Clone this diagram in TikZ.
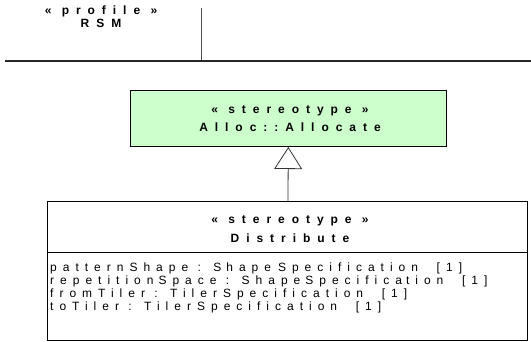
\documentclass[tikz,border=0pt]{standalone}
\usepackage{fontspec}
\setmainfont{Liberation Sans}
\newfontfamily\spbold[LetterSpace=58]{Liberation Sans}
\newfontfamily\spreg[LetterSpace=50]{Liberation Sans}
\usetikzlibrary{arrows.meta}
\definecolor{stgreen}{HTML}{CCFFCC}
\tikzset{
  classbox/.style={draw=black, line width=1pt, rectangle, anchor=north west, inner sep=0pt},
  titletext/.style={font=\spbold\bfseries\fontsize{12}{14}\selectfont, anchor=base, inner sep=0pt},
  attrtext/.style={font=\spreg\fontsize{12}{14}\selectfont, anchor=base west, inner sep=0pt},
  gen/.style={line width=0.8pt, draw=black!80, -{Triangle[open, width=28pt, length=22pt, line width=0.8pt]}},
  frameline/.style={line width=1.2pt, draw=black!85}
}
\begin{document}
\begin{tikzpicture}[x=1pt, y=-1pt]
\useasboundingbox (0,0) rectangle (531,341);
% profile header
\node[titletext] (pst) at (101,14.5) {« profile »};
\node[titletext] (pname) at (101,27) {RSM};
\coordinate (vtop) at (201,8);
\coordinate (vbot) at (201,61);
\coordinate (hl) at (5,61);
\coordinate (hr) at (531,61);
\draw[line width=1pt, draw=black!70] (vtop) -- (vbot);
\draw[frameline] (hl) -- (hr);
% Alloc::Allocate
\node[classbox, fill=stgreen, minimum width=316pt, minimum height=56pt] (alloc) at (130,90) {};
\node[titletext] (allocst) at (290,113) {« stereotype »};
\node[titletext] (allocname) at (290,131) {Alloc::Allocate};
% Distribute
\node[classbox, fill=white, minimum width=480pt, minimum height=139pt] (dist) at (47,201) {};
\coordinate (divl) at (47,252);
\coordinate (divr) at (527,252);
\draw[line width=1pt] (divl) -- (divr);
\node[titletext] (distst) at (290,223) {« stereotype »};
\node[titletext] (distname) at (290,242) {Distribute};
\node[attrtext] (a1) at (50,271) {pattern\kern6pt Shape : S\kern5pt hape\kern7pt Specifica\kern6pt tion \ [1]};
\node[attrtext] (a2) at (50,284) {repetition\kern5pt Space : Shape\kern5pt Specifica\kern4pt tion \ [1]};
\node[attrtext] (a3) at (50,297) {fromTiler : TilerSpecification \ [1]};
\node[attrtext] (a4) at (50,310) {toTiler : TilerSpecification \ [1]};
% generalization
\draw[gen] (dist) -- (alloc);
\end{tikzpicture}
\end{document}
